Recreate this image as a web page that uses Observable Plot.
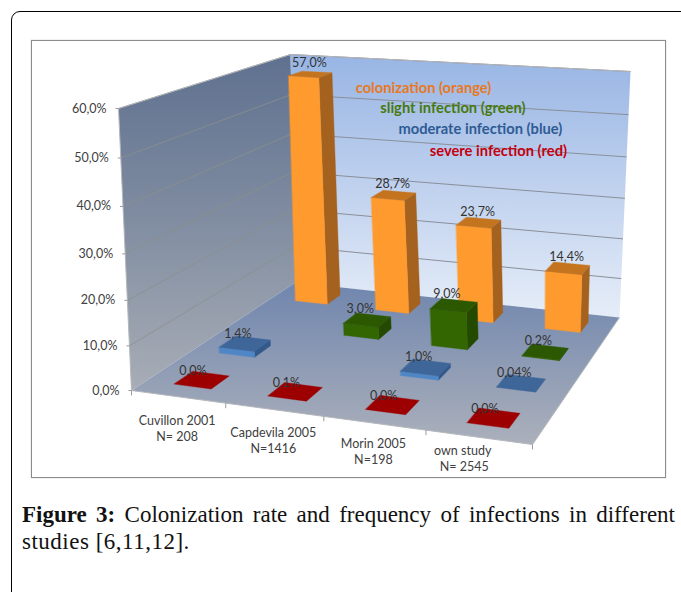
<!DOCTYPE html>
<html><head><meta charset="utf-8">
<script src="https://cdn.jsdelivr.net/npm/d3@7"></script>
<script src="https://cdn.jsdelivr.net/npm/@observablehq/plot@0.6"></script>
<style>
html,body{margin:0;padding:0;background:#fff;width:681px;height:592px;overflow:hidden;position:relative}
#card{position:absolute;left:11px;top:11px;width:720px;height:700px;border:1.5px solid #000;border-radius:9px;box-sizing:border-box}
#box{position:absolute;left:31px;top:40px;width:635px;height:438px;border:1px solid #8c8c8c;box-sizing:border-box;box-shadow:0 0 1px #aaa}
#plot{position:absolute;left:0;top:0}
#caption{position:absolute;left:22px;top:501px;width:653px;font:23px/27px "Liberation Serif",serif;color:#111}
#caption div{white-space:nowrap}
#caption .l1{text-align:justify;text-align-last:justify;white-space:normal}
#caption .l2{letter-spacing:.5px}
</style></head><body>
<div id="card"></div><div id="box"></div><div id="plot"></div>
<div id="caption"><div class="l1"><b>Figure 3:</b> Colonization rate and frequency of infections in different</div><div class="l2">studies [6,11,12].</div></div>
<script>
// ---- data
const studies = ["Cuvillon 2001\nN= 208", "Capdevila 2005\nN=1416", "Morin 2005\nN=198", "own study\n N= 2545"];
const severity = [0.0, 0.1, 0.0, 0.0];
const moderate = [1.4, null, 1.0, 0.04];
const slight = [null, 3.0, 9.0, 0.2];
const colonization = [57.0, 28.7, 23.7, 14.4];
const severityLabels = ["0,0%", "0,1%", "0,0%", "0,0%"];
const moderateLabels = ["1,4%", null, "1,0%", "0,04%"];
const slightLabels = [null, "3,0%", "9,0%", "0,2%"];
const colonizationLabels = ["57,0%", "28,7%", "23,7%", "14,4%"];
const yTicks = [0, 10, 20, 30, 40, 50, 60];
const yTickLabels = ["0,0%", "10,0%", "20,0%", "30,0%", "40,0%", "50,0%", "60,0%"];
const legendTexts = ["colonization (orange)", "slight infection (green)", "moderate infection (blue)", "severe infection (red)"];

// ---- styles
const seriesStyle = [
  {values: severity, labels: severityLabels, front: "#9c0000", side: "#7d0000", top: "#9c0000", ldx: -9, ldy: 2},
  {values: moderate, labels: moderateLabels, front: "#4f86c6", side: "#33598a", top: "#3e6699", ldx: -7, ldy: 1},
  {values: slight, labels: slightLabels, front: "#336600", side: "#234a00", top: "#2b5800", ldx: -7, ldy: 0},
  {values: colonization, labels: colonizationLabels, front: "#ff9a2e", side: "#a5611e", top: "#c4741f", ldx: -1, ldy: 0}
];
const legendColors = ["#e8791f", "#47790f", "#2f5b94", "#c4000f"];
// legend anchor on the back wall: study-axis position, value-axis position
const legendU = [0.88, 1.19, 1.41, 1.79];
const legendW = [52.5, 48.0, 43.0, 38.0];
const labelDrop = [31, 30, 28, 21], labelShift = [-1, -1, -1, -16];

// ---- perspective camera: box with study axis 0..4, series axis 0..4, value axis 0..60
function quad(p) {
  const [[x0,y0],[x1,y1],[x2,y2],[x3,y3]] = p;
  const dx1=x1-x2, dx2=x3-x2, sx=x0-x1+x2-x3, dy1=y1-y2, dy2=y3-y2, sy=y0-y1+y2-y3;
  const den=dx1*dy2-dx2*dy1, g=(sx*dy2-dx2*sy)/den, h=(dx1*sy-sx*dy1)/den;
  const a=x1-x0+g*x1, b=x3-x0+h*x3, d=y1-y0+g*y1, e=y3-y0+h*y3;
  return (s,t) => { const q=g*s+h*t+1; return [(a*s+b*t+x0)/q,(d*s+e*t+y0)/q]; };
}
const floorAt = quad([[131,390],[532,444],[619,317],[295,282]]);
const ceilAt = quad([[118,108],[541,148],[630,71],[290,54]]);
const nearTop = 0.94;
function project(u,v,w) {
  const s=u/4,t=v/4,h=w/60,a=floorAt(s,t),b=ceilAt(s,t),q=(1-h)+h*nearTop;
  return [((1-h)*a[0]+h*nearTop*b[0])/q, ((1-h)*a[1]+h*nearTop*b[1])/q];
}

// ---- faces in painter's order
const faces = [];
function face(fill, pts) {
  const id = faces.length ? faces[faces.length-1].id+1 : 0;
  for (const p of pts) { const [x,y]=project(...p); faces.push({id,x,y,fill}); }
}
face("url(#wallL)", [[0,0,0],[0,4,0],[0,4,60],[0,0,60]]);
face("url(#wallB)", [[0,4,0],[4,4,0],[4,4,60],[0,4,60]]);
face("url(#floor)", [[0,0,0],[4,0,0],[4,4,0],[0,4,0]]);
const half = 0.2;
for (let r=3;r>=0;r--) for (let c=0;c<4;c++) {
  const st=seriesStyle[r], val=st.values[c];
  if (val==null) continue;
  const u0=c+.5-half,u1=c+.5+half,v0=r+.5-half,v1=r+.5+half;
  if (val>0.15) {
    face(st.side,[[u1,v0,0],[u1,v1,0],[u1,v1,val],[u1,v0,val]]);
    face(st.front,[[u0,v0,0],[u1,v0,0],[u1,v0,val],[u0,v0,val]]);
  }
  face(st.top,[[u0,v0,val],[u1,v0,val],[u1,v1,val],[u0,v1,val]]);
}

// ---- lines
const seg = [];
function line(kind,a,b,dx=0,dy=0){const p=project(...a),q=project(...b);seg.push({kind,x1:p[0],y1:p[1],x2:q[0]+dx,y2:q[1]+dy});}
for (const w of yTicks.slice(1)) { line("gridL",[0,0,w],[0,4,w]); line("gridB",[0,4,w],[4,4,w]); }
for (const w of yTicks) line("tick",[0,0,w],[0,0,w],-3,0);
for (let u=0;u<=4;u++) line("tick",[u,0,0],[u,0,0],0,5);
const edges=[];
function edge(a,b){const p=project(...a),q=project(...b);edges.push({x1:p[0],y1:p[1],x2:q[0],y2:q[1]});}
edge([0,0,0],[0,0,60]); edge([0,0,60],[0,4,60]); edge([0,4,60],[4,4,60]); edge([0,0,0],[4,0,0]); edge([4,0,0],[4,4,0]);

// ---- labels
const dataLabels=[];
seriesStyle.forEach((st,r)=>st.labels.forEach((t,c)=>{
  if(t==null) return;
  const [x,y]=project(c+.5,r+.5,st.values[c]);
  dataLabels.push({x:x+st.ldx,y:y+st.ldy,t});
}));
const yLabels=yTicks.map((w,i)=>{const [x,y]=project(0,0,w);return {x:x-12,y,t:yTickLabels[i]};});
const catLabels=studies.map((t,i)=>{const [x,y]=project(i+.5,0,0);return {x:x+labelShift[i],y:y+labelDrop[i],t};});
const legendItems=legendTexts.map((t,i)=>{const [x,y]=project(legendU[i],4,legendW[i]);return {x,y,t,c:legendColors[i]};});

function defs(){
  const d=d3.create("svg:defs");
  const grad=(id,stops)=>{const g=d.append("linearGradient").attr("id",id).attr("x1",0).attr("y1",0).attr("x2",0).attr("y2",1);
    stops.forEach(([o,c])=>g.append("stop").attr("offset",o).attr("stop-color",c));};
  grad("wallL",[[0,"#5f7190"],[.45,"#7d8a9f"],[1,"#a8adb6"]]);
  grad("wallB",[[0,"#98b5e4"],[1,"#e6edf8"]]);
  grad("floor",[[0,"#7086ae"],[1,"#abb0bb"]]);
  return d.node();
}
const font='Lato, "Open Sans", sans-serif';
const chart=Plot.plot({
  width:681,height:490,margin:0,style:{background:"transparent"},
  x:{domain:[0,681],range:[0,681],axis:null},
  y:{domain:[0,490],range:[0,490],axis:null},
  color:{type:"identity"},
  marks:[
    defs,
    Plot.line(faces.filter(f=>f.id<3),{x:"x",y:"y",z:"id",fill:"fill",stroke:null,curve:"linear-closed"}),
    Plot.link(seg.filter(s=>s.kind==="gridL"),{x1:"x1",y1:"y1",x2:"x2",y2:"y2",stroke:"#8c8f8c",strokeWidth:.8}),
    Plot.link(seg.filter(s=>s.kind==="gridB"),{x1:"x1",y1:"y1",x2:"x2",y2:"y2",stroke:"#8a8f99",strokeWidth:1}),
    Plot.link(edges,{x1:"x1",y1:"y1",x2:"x2",y2:"y2",stroke:"#b4b7bb",strokeWidth:1}),
    Plot.link(seg.filter(s=>s.kind==="tick"),{x1:"x1",y1:"y1",x2:"x2",y2:"y2",stroke:"#9a9a9a",strokeWidth:1}),
    Plot.line(faces.filter(f=>f.id>=3),{x:"x",y:"y",z:"id",fill:"fill",stroke:"fill",strokeWidth:.4,curve:"linear-closed"}),
    Plot.text(legendItems,{x:"x",y:"y",text:"t",fill:"c",textAnchor:"start",fontSize:14.7,fontWeight:700,fontFamily:font}),
    Plot.text(dataLabels,{x:"x",y:"y",text:"t",dy:-11,fill:"#333",fontSize:12.5,fontFamily:font}),
    Plot.text(yLabels,{x:"x",y:"y",text:"t",textAnchor:"end",fill:"#404040",fontSize:12.5,fontFamily:font}),
    Plot.text(catLabels,{x:"x",y:"y",text:"t",fill:"#404040",fontSize:12.5,lineHeight:1.25,fontFamily:font})
  ]
});
document.getElementById("plot").append(chart);
</script>
</body></html>
